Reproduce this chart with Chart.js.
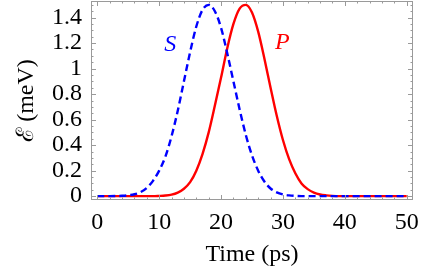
<!DOCTYPE html>
<html>
<head>
<meta charset="utf-8">
<script src="https://cdn.jsdelivr.net/npm/chart.js@4/dist/chart.umd.min.js"></script>
<style>
  html, body { margin: 0; padding: 0; background: #ffffff; }
  canvas { display: block; }
</style>
</head>
<body>
<canvas id="c" width="436" height="270"></canvas>
<script>
// ---- data ----
const times = [0,1,2,3,4,5,6,7,8,9,10,11,12,13,14,15,16,17,18,19,20,21,22,23,24,25,26,27,28,29,30,31,32,33,34,35,36,37,38,39,40,41,42,43,44,45,46,47,48,49,50];
const sValues = [0,0,0,0.001,0.003,0.007,0.015,0.032,0.065,0.12,0.2,0.31,0.47,0.67,0.9,1.13,1.33,1.46,1.5,1.45,1.32,1.12,0.9,0.68,0.48,0.32,0.2,0.115,0.06,0.03,0.014,0.006,0.002,0,0,0,0,0,0,0,0,0,0,0,0,0,0,0,0,0,0];
const pValues = [0,0,0,0,0,0,0,0,0,0,0.002,0.005,0.012,0.028,0.058,0.11,0.2,0.33,0.5,0.71,0.93,1.16,1.35,1.47,1.5,1.44,1.29,1.08,0.85,0.63,0.44,0.29,0.18,0.1,0.055,0.028,0.013,0.006,0.002,0,0,0,0,0,0,0,0,0,0,0,0];
const xTickLabels = [0,10,20,30,40,50];
const yTickLabels = [0,0.2,0.4,0.6,0.8,1,1.2,1.4];
const seriesNames = ['S','P'];

// ---- presentation ----
const FONT = "'Liberation Serif', 'Times New Roman', serif";
const BLUE = 'rgb(0,0,255)';
const RED = 'rgb(255,0,0)';
const FRAME = '#9a9a9a';
const labelAnchors = [{x: 11.8, y: 1.19, color: BLUE}, {x: 29.9, y: 1.2, color: RED}];

const sPts = times.map((t, i) => ({x: t, y: sValues[i]}));
const pPts = times.map((t, i) => ({x: t, y: pValues[i]}));

const framePlugin = {
  id: 'frame',
  afterDatasetsDraw(chart) {
    const {ctx, chartArea: a, scales: {x, y}} = chart;
    ctx.save();
    ctx.strokeStyle = FRAME;
    ctx.lineWidth = 1;
    ctx.strokeRect(a.left + 0.5, a.top + 0.5, a.right - a.left - 1, a.bottom - a.top - 1);
    ctx.beginPath();
    for (let v = 0; v <= 50; v += 2) {
      const px = Math.round(x.getPixelForValue(v)) + 0.5;
      const len = (v % 10 === 0) ? 5 : 2.5;
      ctx.moveTo(px, a.bottom); ctx.lineTo(px, a.bottom - len);
      ctx.moveTo(px, a.top); ctx.lineTo(px, a.top + len);
    }
    for (let k = 0; k <= 30; k++) {
      const v = k * 0.05;
      const py = Math.round(y.getPixelForValue(v)) + 0.5;
      const len = (k % 4 === 0) ? 5 : 2.5;
      ctx.moveTo(a.left, py); ctx.lineTo(a.left + len, py);
      ctx.moveTo(a.right, py); ctx.lineTo(a.right - len, py);
    }
    ctx.stroke();
    ctx.font = "italic 24px " + FONT;
    ctx.textAlign = 'center';
    ctx.textBaseline = 'middle';
    seriesNames.forEach((n, i) => {
      ctx.fillStyle = labelAnchors[i].color;
      ctx.fillText(n, x.getPixelForValue(labelAnchors[i].x), y.getPixelForValue(labelAnchors[i].y));
    });
    ctx.restore();
  }
};

function noPad(s) { s.paddingTop = 0; s.paddingBottom = 0; s.paddingLeft = 0; s.paddingRight = 0; }

new Chart(document.getElementById('c'), {
  type: 'line',
  data: {
    datasets: [
      {label: seriesNames[0], data: sPts, borderColor: BLUE, borderWidth: 2.4, borderDash: [7, 4], pointRadius: 0, fill: false, cubicInterpolationMode: 'monotone'},
      {label: seriesNames[1], data: pPts, borderColor: RED, borderWidth: 2.4, pointRadius: 0, fill: false, cubicInterpolationMode: 'monotone'}
    ]
  },
  options: {
    responsive: false,
    animation: false,
    devicePixelRatio: 1,
    layout: {padding: {left: 0, right: 23, top: 1, bottom: 0}},
    plugins: {legend: {display: false}, tooltip: {enabled: false}},
    scales: {
      x: {
        type: 'linear', min: -1.02, max: 51.02,
        afterBuildTicks: s => { s.ticks = xTickLabels.map(v => ({value: v})); },
        afterFit: s => { s.height = 70; noPad(s); },
        grid: {display: false, drawTicks: false},
        border: {display: false},
        ticks: {color: '#000', font: {family: FONT, size: 24}, padding: 8, maxRotation: 0, autoSkip: false,
                callback: v => String(v)},
        title: {display: true, text: 'Time (ps)', color: '#000', font: {family: FONT, size: 24}, padding: {top: 0, bottom: 1}}
      },
      y: {
        type: 'linear', min: -0.03, max: 1.53,
        afterBuildTicks: s => { s.ticks = yTickLabels.map(v => ({value: v})); },
        afterFit: s => { s.width = 91; noPad(s); },
        grid: {display: false, drawTicks: false},
        border: {display: false},
        ticks: {color: '#000', font: {family: FONT, size: 24}, padding: 9, autoSkip: false,
                callback: v => String(+Number(v).toFixed(1))},
        title: {display: true, text: 'ℰ (meV)', color: '#000', font: {family: FONT, size: 24}, padding: {top: 12, bottom: 0}}
      }
    }
  },
  plugins: [framePlugin]
});
</script>
</body>
</html>
